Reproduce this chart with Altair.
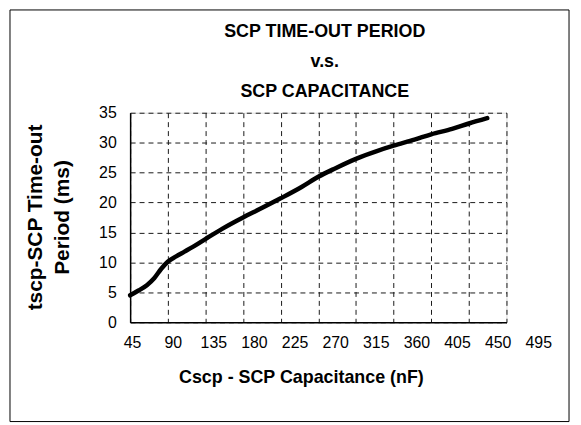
import altair as alt
import pandas as pd

# Data
cap_nf = [45, 55, 65, 74, 82, 90, 100, 110, 120, 135, 155, 180, 200, 225,
          250, 270, 290, 315, 340, 360, 385, 405, 430, 450, 472]
period_ms = [4.5, 5.3, 6.2, 7.4, 8.9, 10.1, 11.0, 11.8, 12.6, 13.9, 15.6, 17.5,
             18.9, 20.7, 22.6, 24.3, 25.7, 27.3, 28.6, 29.5, 30.5, 31.4, 32.3,
             33.2, 34.1]
x_ticks = [45, 90, 135, 180, 225, 270, 315, 360, 405, 450, 495]
y_ticks = [0, 5, 10, 15, 20, 25, 30, 35]
title_lines = ["SCP TIME-OUT PERIOD", "v.s.", "SCP CAPACITANCE"]
y_title_lines = ["tscp-SCP Time-out", "Period (ms)"]
x_title = "Cscp - SCP Capacitance (nF)"

df = pd.DataFrame({"cap": cap_nf, "t": period_ms})
one = pd.DataFrame({"k": [0]})

W, H = 379, 211
FONT = "Liberation Sans"
GRID = dict(grid=True, gridColor="#1a1a1a", gridDash=[5, 4], gridWidth=1)

# grid + axis line layer (no labels)
x_grid = alt.X(
    "cap:Q",
    scale=alt.Scale(domain=[45, 495], nice=False, zero=False),
    axis=alt.Axis(values=x_ticks, orient="bottom", labels=False, ticks=False,
                  title=None, domainColor="black", domainWidth=1.5, **GRID),
)
y_enc = alt.Y(
    "t:Q",
    scale=alt.Scale(domain=[0, 35], nice=False),
    axis=alt.Axis(
        values=y_ticks, title=None,
        labelFont=FONT, labelFontSize=16, labelColor="black",
        labelPadding=14, ticks=False, domainColor="black", domainWidth=1.5,
        labelFlush=False, labelOverlap=False, **GRID,
    ),
)

line = alt.Chart(df).mark_line(
    color="black", strokeWidth=4.5, interpolate="monotone", strokeCap="round"
).encode(x=x_grid, y=y_enc)

# tick label layer: labels sit on their own spacing in the reference
labels = alt.Chart(df).mark_point(opacity=0).encode(
    x=alt.X(
        "cap:Q",
        scale=alt.Scale(domain=[45, 495], range=[2, 411], nice=False, zero=False),
        axis=alt.Axis(
            values=x_ticks, orient="bottom", grid=False, domain=False, ticks=False,
            labelFont=FONT, labelFontSize=16, labelColor="black",
            labelPadding=12, labelFlush=False, labelOverlap=False,
            title=x_title, titleFont=FONT, titleFontSize=18,
            titleFontWeight="bold", titleColor="black",
            titleX=172, titleY=61, titleBaseline="alphabetic", titleAlign="center",
        ),
    ),
    y=alt.value(0),
)

frame = alt.Chart(one).mark_rect(
    fill=None, stroke="black", strokeWidth=1
).encode(
    x=alt.value(-121), x2=alt.value(442),
    y=alt.value(-103.5), y2=alt.value(311),
)

def txt(s, x, y, size, angle=0):
    return alt.Chart(one).mark_text(
        text=s, font=FONT, fontSize=size, fontWeight="bold", color="black",
        align="center", baseline="alphabetic", angle=angle,
    ).encode(x=alt.value(x), y=alt.value(y))

title_layers = [
    txt(title_lines[0], 196, -76, 18),
    txt(title_lines[1], 196, -46, 18),
    txt(title_lines[2], 196, -16, 18),
]
ytitle_layers = [
    txt(y_title_lines[0], -88.5, H / 2, 21, angle=270),
    txt(y_title_lines[1], -61.5, H / 2, 21, angle=270),
]

chart = alt.layer(
    frame, line, labels, *title_layers, *ytitle_layers
).resolve_scale(x="independent").properties(
    width=W, height=H,
    autosize=alt.AutoSizeParams(type="none"),
    padding={"left": 123, "top": 104, "right": 67, "bottom": 102},
).configure_view(
    stroke="#888888", strokeWidth=1.5
).configure(background="white")

chart.save("out.html", embed_options={"renderer": "svg", "actions": False})
